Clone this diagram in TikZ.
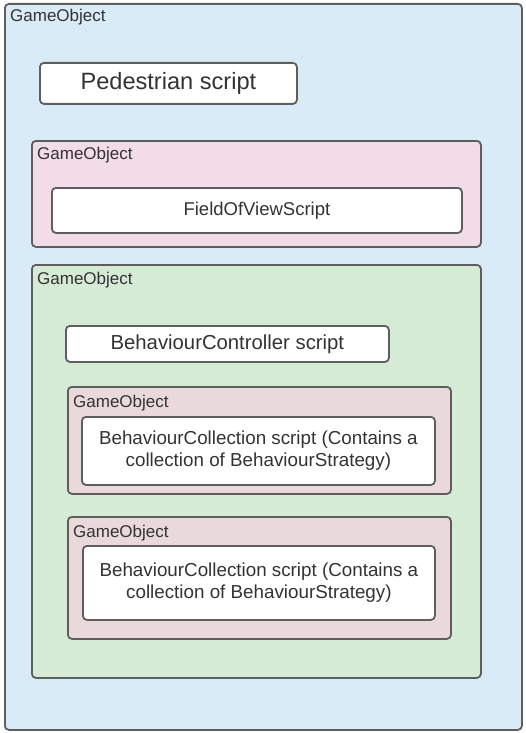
\documentclass[tikz,border=0pt]{standalone}
\usepackage{fontspec}
\setmainfont{Liberation Sans}
\definecolor{bordergray}{HTML}{5E5E5E}
\definecolor{textgray}{HTML}{333333}
\definecolor{goblue}{HTML}{DAEBF8}
\definecolor{gopink}{HTML}{F1DCE7}
\definecolor{gogreen}{HTML}{D5EBD6}
\definecolor{gomauve}{HTML}{E9D9DB}
\tikzset{
  frame/.style={draw=bordergray, line width=1.8pt, rounded corners=4pt, inner sep=0pt, anchor=north west},
  scriptbox/.style={frame, fill=white, align=center, text=textgray, font=\fontsize{18.8}{22}\selectfont},
  golabel/.style={anchor=base west, inner sep=0pt, text=textgray, font=\fontsize{17}{19}\selectfont},
}
\begin{document}
\begin{tikzpicture}[x=1pt,y=-1pt]
\useasboundingbox (0,0) rectangle (526,733);
% outer
\node[frame, fill=goblue, minimum width=517pt, minimum height=726pt] (outer) at (4,3) {};
\node[golabel] (outerlbl) at (10,22) {GameObject};
\node[scriptbox, minimum width=257pt, minimum height=41pt, font=\fontsize{23.6}{26}\selectfont] (ped) at (39,62) {Pedestrian script};
% field of view
\node[frame, fill=gopink, minimum width=449pt, minimum height=106pt] (fovgo) at (31,140) {};
\node[golabel] (fovlbl) at (37,159) {GameObject};
\node[scriptbox, minimum width=410pt, minimum height=45pt, font=\fontsize{18.5}{22}\selectfont] (fov) at (51,187) {FieldOfViewScript};
% behaviour
\node[frame, fill=gogreen, minimum width=449pt, minimum height=413pt] (behgo) at (31,264) {};
\node[golabel] (behlbl) at (37,284) {GameObject};
\node[scriptbox, minimum width=323pt, minimum height=36pt, font=\fontsize{20.3}{23}\selectfont] (bctrl) at (65,325) {BehaviourController script};
% collection 1
\node[frame, fill=gomauve, minimum width=383pt, minimum height=107pt] (go1) at (67,386) {};
\node[golabel] (go1lbl) at (73,407) {GameObject};
\node[scriptbox, minimum width=353pt, minimum height=68pt] (bc1) at (81,416) {BehaviourCollection script (Contains a\\collection of BehaviourStrategy)};
% collection 2
\node[frame, fill=gomauve, minimum width=383pt, minimum height=122pt] (go2) at (67,516) {};
\node[golabel] (go2lbl) at (73,537) {GameObject};
\node[scriptbox, minimum width=352pt, minimum height=74pt] (bc2) at (82,545) {BehaviourCollection script (Contains a\\collection of BehaviourStrategy)};
\end{tikzpicture}
\end{document}
